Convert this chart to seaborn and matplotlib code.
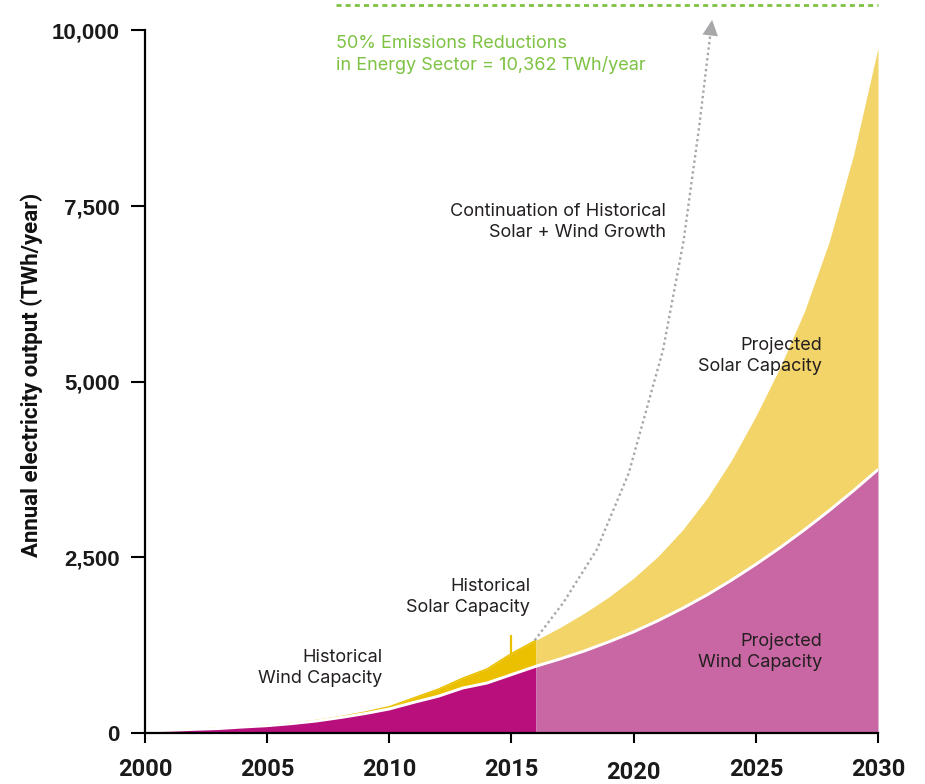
import matplotlib
matplotlib.use("Agg")
import matplotlib.pyplot as plt
import matplotlib.transforms as mtransforms
import numpy as np
import pandas as pd
import seaborn as sns

# Historical generation (TWh/year)
hist_years = list(range(2000, 2017))
hist_wind = [31, 38, 52, 63, 85, 104, 133, 170, 220, 276, 342, 436, 523, 640, 712, 831, 950]
hist_solar = [1, 1, 2, 3, 4, 5, 6, 8, 12, 20, 32, 63, 100, 140, 200, 300, 370]

# Projected generation (TWh/year)
proj_years = list(range(2016, 2031))
proj_wind = [950, 1055, 1170, 1300, 1440, 1600, 1775, 1965, 2175, 2400, 2640, 2895, 3165, 3450, 3750]
proj_solar = [370, 450, 540, 640, 765, 915, 1115, 1375, 1705, 2110, 2570, 3115, 3825, 4780, 6000]

# Continuation of historical solar + wind growth
trend_years = [2015.95, 2017.12, 2018.49, 2019.8, 2021.2, 2022.04, 2022.69, 2023.05, 2023.13]
trend_output = [1320, 1855, 2610, 3700, 5450, 7001, 8654, 9700, 9920]
trend_tip = (2023.21, 10150)

# 50% emissions reduction target in the energy sector
target_value = 10362
target_start = 2007.82

x_ticks = [2000, 2005, 2010, 2015, 2020, 2025, 2030]
y_ticks = [0, 2500, 5000, 7500, 10000]
y_tick_labels = ["0", "2,500", "5,000", "7,500", "10,000"]

C_HIST_WIND = "#B90F7D"
C_HIST_SOLAR = "#EAC000"
C_PROJ_WIND = "#C967A4"
C_PROJ_SOLAR = "#F2D468"
C_TREND = "#A7A7A9"
C_TARGET = "#7DC242"
C_TEXT = "#231F20"

sns.set_theme(style="white")
plt.rcParams["font.family"] = ["Inter", "DejaVu Sans"]

hist = pd.DataFrame({"year": hist_years, "wind": hist_wind, "solar": hist_solar})
hist["total"] = hist["wind"] + hist["solar"]
proj = pd.DataFrame({"year": proj_years, "wind": proj_wind, "solar": proj_solar})
proj["total"] = proj["wind"] + proj["solar"]
trend = pd.DataFrame({"year": trend_years, "output": trend_output})

fig = plt.figure(figsize=(9.25, 7.84), dpi=100)
ax = fig.add_axes([145 / 925, 51 / 784, 733 / 925, 730.6 / 784])

# Stacked areas: wind at the bottom, solar on top
ax.fill_between(hist["year"], 0, hist["wind"], color=C_HIST_WIND, lw=0, zorder=1)
ax.fill_between(hist["year"], hist["wind"], hist["total"], color=C_HIST_SOLAR, lw=0, zorder=1)
ax.fill_between(proj["year"], 0, proj["wind"], color=C_PROJ_WIND, lw=0, zorder=1)
ax.fill_between(proj["year"], proj["wind"], proj["total"], color=C_PROJ_SOLAR, lw=0, zorder=1)

sns.lineplot(data=hist, x="year", y="total", color=C_HIST_SOLAR, lw=1.1,
             estimator=None, ax=ax, zorder=2)

# White divider between wind and solar
boundary = pd.concat([hist[["year", "wind"]], proj[["year", "wind"]].iloc[1:]],
                     ignore_index=True)
sns.lineplot(data=boundary, x="year", y="wind", color="white", lw=2.1,
             estimator=None, ax=ax, zorder=3)

# Leader for the historical solar label
total_2015 = hist.loc[hist["year"] == 2015, "total"].iloc[0]
ax.vlines(2015, total_2015, 1400, color=C_HIST_SOLAR, lw=1.6, zorder=3)

# Dotted growth trend with arrowhead
sns.lineplot(data=trend, x="year", y="output", color=C_TREND, lw=1.7,
             linestyle=(0, (1.0, 1.3)), estimator=None, sort=False, ax=ax, zorder=4)
ax.annotate("", xy=trend_tip, xytext=(trend_years[-1], trend_output[-1]),
            arrowprops=dict(arrowstyle="-|>,head_length=0.8,head_width=0.4",
                            color=C_TREND, lw=0, shrinkA=0, shrinkB=0,
                            mutation_scale=14),
            zorder=4, annotation_clip=False)

# Target line
ax.plot([target_start, 2030], [target_value, target_value], color=C_TARGET,
        lw=2.0, linestyle=(0, (1.8, 1.5)), clip_on=False, zorder=4)

ax.set_xlim(2000, 2030)
ax.set_ylim(0, 10400)

sns.despine(ax=ax)
ax.spines["left"].set_bounds(0, 10000)
for side in ("left", "bottom"):
    ax.spines[side].set_color("black")
    ax.spines[side].set_linewidth(1.6)
    ax.spines[side].set_zorder(5)

ax.set_xticks(x_ticks, [str(t) for t in x_ticks], fontfamily="Roboto",
              fontweight="bold", fontsize=17, color="#1A1A1A")
ax.set_yticks(y_ticks, y_tick_labels, fontfamily="Liberation Sans",
              fontweight="bold", fontsize=16, color="#1A1A1A")
ax.tick_params(axis="x", bottom=True, direction="out", length=7.5, width=1.5,
               pad=10.5, color="black")
ax.tick_params(axis="y", left=True, direction="out", length=10, width=1.5,
               pad=8, color="black")

lbl2020 = ax.get_xticklabels()[4]
lbl2020.set_transform(lbl2020.get_transform()
                      + mtransforms.ScaledTranslation(0, -0.03, fig.dpi_scale_trans))

ax.set_xlabel("")
ax.set_ylabel("Annual electricity output (TWh/year)", fontfamily="Roboto",
              fontweight="bold", fontsize=16, color="#111111")
ax.yaxis.set_label_coords(-0.139, 0.49)

text_kw = dict(fontsize=13, color=C_TEXT, ha="right", va="center", linespacing=1.3)
ax.text(2009.70, 925, "Historical\nWind Capacity", **text_kw)
ax.text(2015.76, 1936, "Historical\nSolar Capacity", **text_kw)
ax.text(2021.33, 7274, "Continuation of Historical\nSolar + Wind Growth", **text_kw)
ax.text(2027.71, 5367, "Projected\nSolar Capacity", **text_kw)
ax.text(2027.71, 1153, "Projected\nWind Capacity", **text_kw)
ax.text(target_start, 9660, "50% Emissions Reductions\nin Energy Sector = 10,362 TWh/year",
        fontsize=13, color=C_TARGET, ha="left", va="center", linespacing=1.3)

fig.savefig("out.png", dpi=100, facecolor="white")
